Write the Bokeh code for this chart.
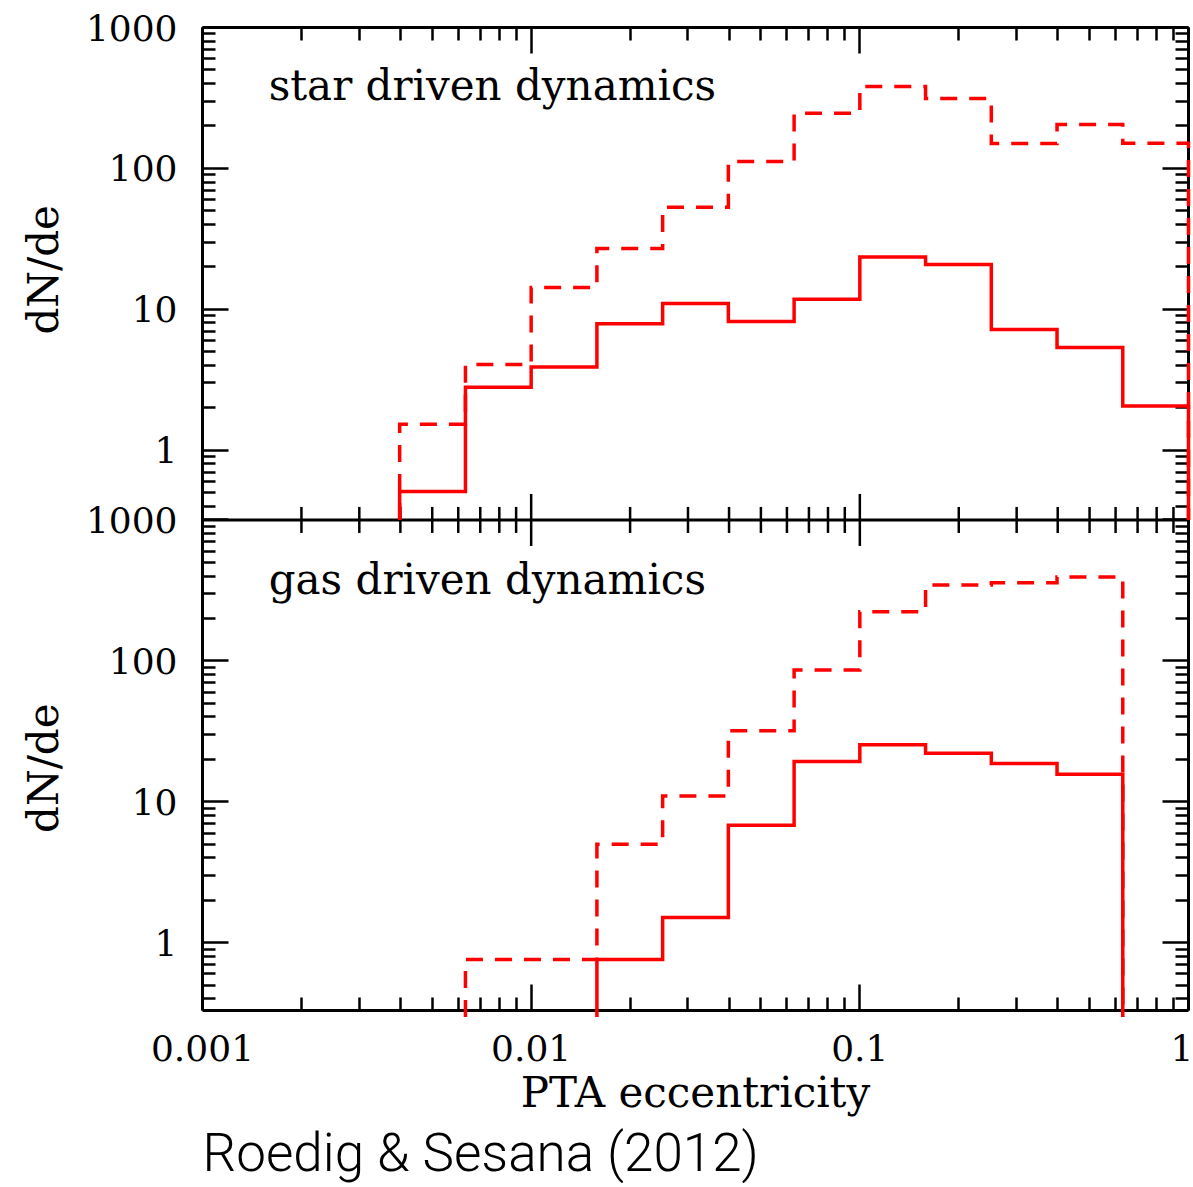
import math
from bokeh.plotting import figure
from bokeh.models import (Range1d, LogScale, LogAxis, FixedTicker, CustomJSTickFormatter,
                          Span, Label, Title)
from bokeh.embed import file_html
from bokeh.resources import INLINE

# ---------------- data ----------------
# bin edges (0.2 dex wide bins in eccentricity)
edges = [0.00398, 0.00631, 0.01, 0.01585, 0.02512, 0.03981, 0.0631,
         0.1, 0.1585, 0.2512, 0.3981, 0.631, 1.0]

# star driven dynamics (top panel)
star_dashed = [1.53, 4.05, 14.3, 27.0, 53.0, 112.0, 246.0, 381.0, 313.0, 150.0, 205.0, 151.0]
star_solid = [0.51, 2.8, 3.9, 7.9, 11.0, 8.2, 11.8, 23.5, 20.8, 7.2, 5.35, 2.06]

# gas driven dynamics (bottom panel)
gas_dashed = [None, 0.76, 0.76, 5.0, 11.0, 31.9, 86.0, 223.0, 346.0, 359.0, 394.0, None]
gas_solid = [None, None, None, 0.76, 1.51, 6.8, 19.3, 25.4, 22.1, 18.7, 15.7, None]

x_major = [0.001, 0.01, 0.1, 1.0]
x_labels = ["0.001", "0.01", "0.1", "1"]
y_major = [1, 10, 100, 1000]
y_labels = ["1", "10", "100", "1000"]
minor_mult = [2, 3, 4, 5, 6, 7, 8, 9]

y_title = "dN/de"
x_title = "PTA eccentricity"
top_label = "star driven dynamics"
bot_label = "gas driven dynamics"
credit = "Roedig & Sesana (2012)"

# panel limits
top_lo, top_hi = 0.32, 1000.0
bot_lo, bot_hi = 0.33, 1000.0

RED = "#ff0000"
FONT = "DejaVu Serif"

# shared axis coordinate: bottom panel values directly, top panel values * shift
shift = bot_hi / top_lo
full_hi = top_hi * shift

FRAME_W, FRAME_H = 986, 983

p = figure(x_axis_type="log", y_axis_type="log",
           x_range=Range1d(0.001, 1.0), y_range=Range1d(bot_lo, full_hi),
           frame_width=FRAME_W, frame_height=FRAME_H,
           min_border_left=202, min_border_top=27, min_border_right=5,
           min_border_bottom=0,
           output_backend="svg", toolbar_location=None)
p.extra_y_ranges = {"top": Range1d(bot_lo / shift, top_hi)}
p.extra_y_scales = {"top": LogScale()}
p.outline_line_color = None
p.xgrid.visible = False
p.ygrid.visible = False
p.background_fill_color = "white"
p.border_fill_color = "white"

# ticks
x_minor = [m * 10.0 ** d for d in (-3, -2, -1) for m in minor_mult]
x_ticker = FixedTicker(ticks=x_major, minor_ticks=x_minor)

y_ticks = list(y_major) + [v * shift for v in y_major]
y_tick_labels = list(y_labels) + list(y_labels)
y_minor = [m * 10.0 ** d for d in (-1, 0, 1, 2) for m in minor_mult if bot_lo < m * 10.0 ** d < bot_hi]
y_minor += [m * 10.0 ** d * shift for d in (-1, 0, 1, 2) for m in minor_mult
            if top_lo < m * 10.0 ** d < top_hi]
y_ticker = FixedTicker(ticks=y_ticks, minor_ticks=y_minor)

fmt_js = """
let best = 0, bd = 1e9;
for (let i = 0; i < tks.length; i++) {
  const d = Math.abs(Math.log(tick / tks[i]));
  if (d < bd) { bd = d; best = i; }
}
return lbls[best];
"""
y_fmt = CustomJSTickFormatter(args=dict(tks=y_ticks, lbls=y_tick_labels), code=fmt_js)
x_fmt = CustomJSTickFormatter(args=dict(tks=x_major, lbls=x_labels), code=fmt_js)


def style_axis(ax, show_labels):
    ax.axis_line_width = 3
    ax.axis_line_color = "black"
    ax.major_tick_in = 26
    ax.major_tick_out = 0
    ax.minor_tick_in = 13
    ax.minor_tick_out = 0
    ax.major_tick_line_width = 2.5
    ax.minor_tick_line_width = 2.5
    ax.major_tick_line_color = "black"
    ax.minor_tick_line_color = "black"
    if show_labels:
        ax.major_label_text_font = FONT
        ax.major_label_text_font_size = "36px"
        ax.major_label_text_color = "black"
    else:
        ax.major_label_text_font_size = "1px"
        ax.major_label_text_alpha = 0
        ax.major_label_standoff = 0


xb = p.xaxis[0]
xb.ticker = x_ticker
xb.formatter = x_fmt
style_axis(xb, True)
xb.major_label_standoff = 24
xb.axis_label = x_title
xb.axis_label_text_font = FONT
xb.axis_label_text_font_size = "42px"
xb.axis_label_text_font_style = "normal"
xb.axis_label_text_color = "black"
xb.axis_label_standoff = 4

yl = p.yaxis[0]
yl.ticker = y_ticker
yl.formatter = y_fmt
style_axis(yl, True)
yl.major_label_standoff = 25

xa = LogAxis(ticker=x_ticker)
style_axis(xa, False)
p.add_layout(xa, "above")

yr = LogAxis(ticker=y_ticker)
style_axis(yr, False)
p.add_layout(yr, "right")

# junction line between the panels, with ticks pointing into both panels
p.add_layout(Span(location=bot_hi, dimension="width", line_width=3, line_color="black"))
decade_px = FRAME_H / math.log10(full_hi / bot_lo)
fmaj = 10 ** (26 / decade_px)
fmin = 10 ** (13 / decade_px)
p.segment(x0=x_major, y0=[bot_hi / fmaj] * len(x_major), x1=x_major, y1=[bot_hi * fmaj] * len(x_major),
          line_color="black", line_width=2.5)
p.segment(x0=x_minor, y0=[bot_hi / fmin] * len(x_minor), x1=x_minor, y1=[bot_hi * fmin] * len(x_minor),
          line_color="black", line_width=2.5)


def outline(vals, floor):
    idx = [i for i, v in enumerate(vals) if v is not None]
    first, last = idx[0], idx[-1]
    xs, ys = [edges[first]], [floor]
    for i in range(first, last + 1):
        xs += [edges[i], edges[i + 1]]
        ys += [vals[i], vals[i]]
    xs.append(edges[last + 1])
    ys.append(floor)
    return xs, ys


for vals, dash, rng, floor in [(star_dashed, "17 12", "top", top_lo),
                               (star_solid, "solid", "top", top_lo),
                               (gas_dashed, "17 12", "default", bot_lo * 0.9),
                               (gas_solid, "solid", "default", bot_lo * 0.9)]:
    xs, ys = outline(vals, floor)
    r = p.line(xs, ys, line_color=RED, line_width=3.5, line_dash=dash,
               line_join="miter", y_range_name=rng)
    r.level = "overlay"

# panel labels
p.add_layout(Label(x=0.00159, y=388, y_range_name="top", text=top_label,
                   text_font=FONT, text_font_size="42px", text_baseline="middle",
                   text_color="black"))
p.add_layout(Label(x=0.00159, y=380, text=bot_label,
                   text_font=FONT, text_font_size="42px", text_baseline="middle",
                   text_color="black"))

# one y title per panel: a single left-side title, the two copies separated by
# non-breaking spaces so that each one is centred on its own panel
gap = "\u00a0" * 27 + "\u2009"
p.add_layout(Title(text=y_title + gap + y_title, align="center", text_font=FONT,
                   text_font_size="42px", text_font_style="normal", text_color="black",
                   standoff=29), "left")

p.add_layout(Title(text=credit, text_font="Roboto Light", text_font_size="53px",
                   text_font_style="normal", align="left", text_color="black",
                   standoff=0), "below")

open("out.html", "w").write(file_html(p, INLINE))
